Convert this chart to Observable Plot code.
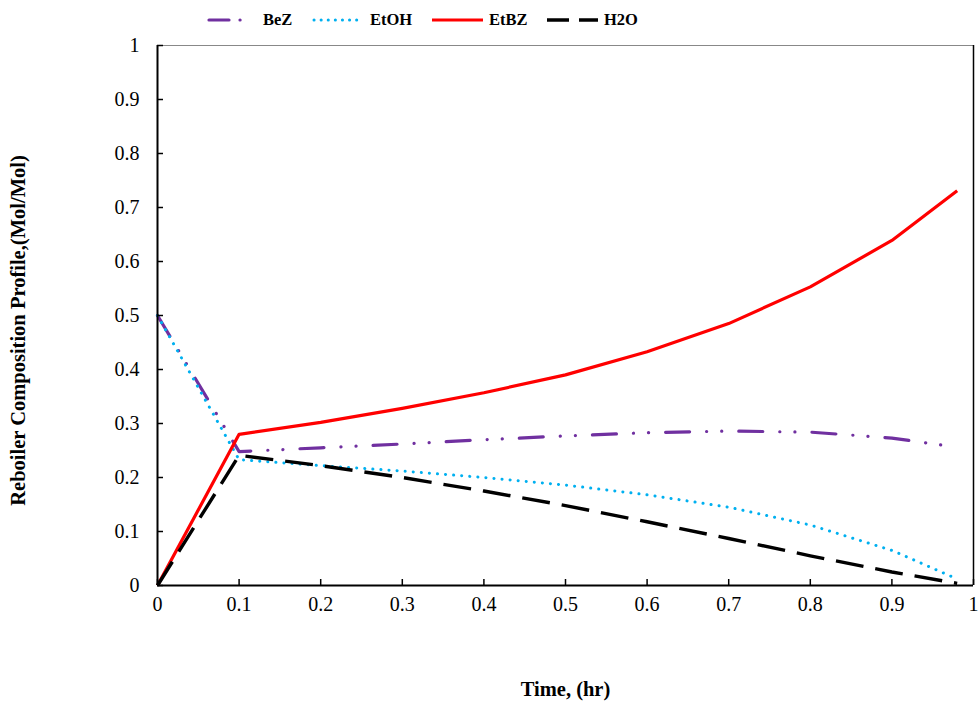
<!DOCTYPE html>
<html>
<head>
<meta charset="utf-8">
<script src="https://cdn.jsdelivr.net/npm/d3@7"></script>
<script src="https://cdn.jsdelivr.net/npm/@observablehq/plot@0.6"></script>
<style>
  body { margin: 0; background: #fff; width: 979px; height: 709px; overflow: hidden; font-family: "Liberation Serif", "Times New Roman", serif; }
  #legend { position: relative; height: 40px; }
  #legend .item { position: absolute; top: 9px; line-height: 22px; font-weight: bold; font-size: 16.5px; }
  #chart svg { overflow: visible; }
</style>
</head>
<body>
<div id="legend"></div>
<div id="chart"></div>
<script>
const time = [0, 0.1, 0.2, 0.3, 0.4, 0.5, 0.6, 0.7, 0.8, 0.9, 0.98];
const BeZ  = [0.5, 0.248, 0.255, 0.262, 0.270, 0.277, 0.283, 0.286, 0.284, 0.273, 0.256];
const EtOH = [0.5, 0.233, 0.222, 0.212, 0.200, 0.186, 0.168, 0.145, 0.112, 0.065, 0.012];
const EtBZ = [0, 0.280, 0.302, 0.328, 0.357, 0.390, 0.433, 0.485, 0.553, 0.639, 0.731];
const H2O  = [0, 0.241, 0.222, 0.200, 0.175, 0.148, 0.118, 0.087, 0.055, 0.025, 0.004];
const yTicks = [0, 0.1, 0.2, 0.3, 0.4, 0.5, 0.6, 0.7, 0.8, 0.9, 1];
const xTicks = [0, 0.1, 0.2, 0.3, 0.4, 0.5, 0.6, 0.7, 0.8, 0.9, 1];
const xLabel = "Time, (hr)";
const yLabel = "Reboiler Composition Profile,(Mol/Mol)";

const seriesDefs = [
  {name: "BeZ", values: BeZ, color: "#7030A0", width: 3.2, dash: "24,17,0.1,15,0.1,17", cap: "round"},
  {name: "EtOH", values: EtOH, color: "#00B0F0", width: 3, dash: "0.1,8", cap: "round"},
  {name: "EtBZ", values: EtBZ, color: "#FF0000", width: 3.2, dash: null, cap: "butt"},
  {name: "H2O", values: H2O, color: "#000000", width: 3.4, dash: "28,12", cap: "butt"}
];

// Legend
const legendPos = [
  {x: 207, w: 46, tx: 263},
  {x: 312, w: 52, tx: 370},
  {x: 432, w: 53, tx: 489},
  {x: 547, w: 53, tx: 604}
];
const legend = document.getElementById("legend");
seriesDefs.forEach((s, i) => {
  const p = legendPos[i];
  const ns = "http://www.w3.org/2000/svg";
  const svg = document.createElementNS(ns, "svg");
  svg.setAttribute("width", p.w);
  svg.setAttribute("height", 10);
  svg.style.position = "absolute";
  svg.style.left = p.x + "px";
  svg.style.top = "15px";
  const line = document.createElementNS(ns, "line");
  line.setAttribute("x1", s.cap === "round" ? 2 : 0);
  line.setAttribute("x2", p.w - 2);
  line.setAttribute("y1", 5); line.setAttribute("y2", 5);
  line.setAttribute("stroke", s.color);
  line.setAttribute("stroke-width", s.width);
  line.setAttribute("stroke-linecap", s.cap);
  if (s.name === "BeZ") line.setAttribute("stroke-dasharray", "20,11,0.1,11,0.1,30");
  else if (s.name === "EtOH") line.setAttribute("stroke-dasharray", "0.1,7");
  else if (s.name === "H2O") line.setAttribute("stroke-dasharray", "22,10");
  svg.appendChild(line);
  legend.appendChild(svg);
  const t = document.createElement("div");
  t.className = "item";
  t.style.left = p.tx + "px";
  t.textContent = s.name;
  legend.appendChild(t);
});

const rows = [];
seriesDefs.forEach(s => time.forEach((t, i) => rows.push({series: s.name, t, v: s.values[i]})));

const marks = [
  Plot.ruleY([1], {stroke: "#888", strokeWidth: 1}),
  Plot.ruleX([1], {stroke: "#000", strokeWidth: 1.5})
];
seriesDefs.forEach(s => {
  marks.push(Plot.line(rows.filter(r => r.series === s.name), {
    x: "t", y: "v", stroke: s.color, strokeWidth: s.width,
    strokeDasharray: s.dash || undefined, strokeLinecap: s.cap, strokeLinejoin: "round"
  }));
});
marks.push(
  Plot.axisY({ticks: yTicks, tickSize: -6, tickPadding: 24, tickFormat: d => String(d), fontSize: 20, label: null, stroke: "#000", strokeWidth: 1.5}),
  Plot.axisX({ticks: xTicks, tickSize: -6, tickPadding: 17, tickFormat: d => String(d), fontSize: 20, label: null, strokeWidth: 1.5}),
  Plot.ruleX([0], {stroke: "#000", strokeWidth: 2}),
  Plot.ruleY([0], {stroke: "#000", strokeWidth: 2}),
  Plot.text([xLabel], {frameAnchor: "bottom", dy: 110, fontWeight: "bold", fontSize: 20.5}),
  Plot.text([yLabel], {frameAnchor: "left", textAnchor: "middle", dx: -139, dy: 15, rotate: -90, fontWeight: "bold", fontSize: 20.5})
);

const chart = Plot.plot({
  width: 979,
  height: 669,
  marginLeft: 157,
  marginRight: 6,
  marginTop: 5,
  marginBottom: 124,
  style: {fontFamily: "'Liberation Serif', 'Times New Roman', serif", fontSize: "20px", color: "#000", background: "#fff"},
  x: {domain: [0, 1]},
  y: {domain: [0, 1]},
  marks
});
document.getElementById("chart").appendChild(chart);
</script>
</body>
</html>
